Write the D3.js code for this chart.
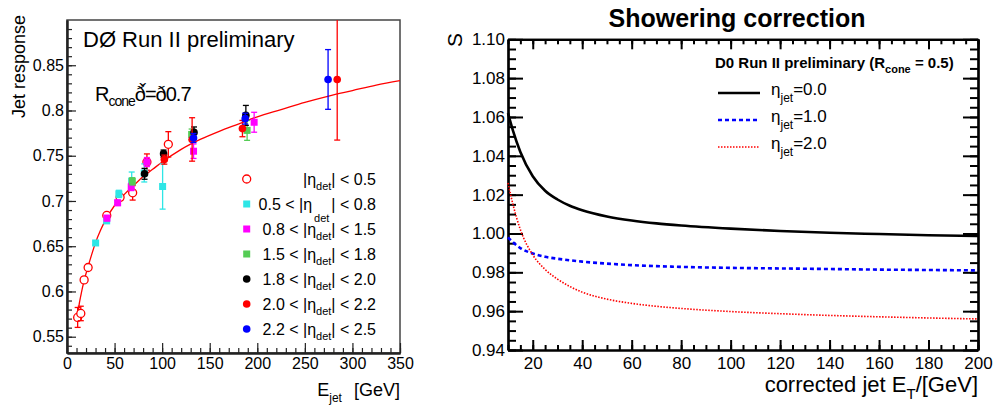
<!DOCTYPE html>
<html>
<head>
<meta charset="utf-8">
<script src="https://cdn.jsdelivr.net/npm/d3@7"></script>
<style>
  body { margin: 0; background: #fff; }
  svg { font-family: "Liberation Sans", Arial, sans-serif; }
</style>
</head>
<body>
<div id="chart"></div>
<script>
// ---- left panel data: jet response vs E_jet, one array per eta bin: [E, response, error]
const etaBinLabels = [
  ["", "| < 0.5"],
  ["0.5 < ", "| < 0.8"],
  ["0.8 < ", "| < 1.5"],
  ["1.5 < ", "| < 1.8"],
  ["1.8 < ", "| < 2.0"],
  ["2.0 < ", "| < 2.2"],
  ["2.2 < ", "| < 2.5"]
];
const etaBinColors = ["#ff0000", "#2ee6e6", "#ff00ff", "#55cc55", "#000000", "#ff0000", "#0000ff"];
const etaBinShapes = ["open", "square", "square", "square", "dot", "dot", "dot"];

const bin00 = [[11.2, 0.5713, 0.011], [14.5, 0.5757, 0.008], [18, 0.6128, 0.003], [22.2, 0.6265, 0.003],
               [41.8, 0.684, 0.003], [55.8, 0.704, 0.003], [69, 0.709, 0.008], [84, 0.743, 0.009],
               [106.5, 0.7626, 0.014]];
const bin05 = [[30.1, 0.6536, 0.002], [41.7, 0.678, 0.002], [54.5, 0.7078, 0.004], [68, 0.722, 0.01],
               [81.2, 0.731, 0.01], [100.5, 0.716, 0.025]];
const bin08 = [[42, 0.681, 0.003], [53.2, 0.698, 0.003], [67.5, 0.7155, 0.004], [84, 0.743, 0.005],
               [133, 0.755, 0.008], [196.7, 0.787, 0.011]];
const bin15 = [[68.6, 0.7217, 0.004], [131, 0.7735, 0.006], [189.3, 0.778, 0.011]];
const bin18 = [[81.5, 0.730, 0.006], [101.5, 0.7523, 0.004], [133.5, 0.7758, 0.006], [188, 0.7946, 0.011]];
const bin20 = [[102.3, 0.7457, 0.005], [131.5, 0.768, 0.024], [184.4, 0.780, 0.009], [284, 0.8343, 0.067]];
const bin22 = [[133, 0.7696, 0.005], [187.3, 0.791, 0.006], [274.4, 0.8343, 0.033]];
const allBins = [bin00, bin05, bin08, bin15, bin18, bin20, bin22];

// fitted response curve
const fitE = [11, 12, 15, 18, 22, 26, 30, 35, 40, 50, 60, 70, 80, 90, 100, 120, 140, 160, 180, 200, 225, 250, 275, 300, 325, 350];
const fitR = [0.570, 0.580, 0.598, 0.612, 0.627, 0.641, 0.654, 0.667, 0.678, 0.695, 0.707, 0.717, 0.727, 0.735,
              0.743, 0.757, 0.768, 0.777, 0.785, 0.793, 0.801, 0.809, 0.816, 0.822, 0.828, 0.833];

// ---- right panel data: showering correction S vs corrected jet E_T
const etGrid = [10, 12, 15, 20, 25, 30, 35, 40, 50, 60, 70, 80, 100, 120, 140, 160, 180, 200];
const sEta0 = [1.062, 1.053, 1.042, 1.0295, 1.022, 1.0175, 1.0143, 1.012, 1.0088, 1.0067, 1.0052, 1.0041, 1.0025, 1.0013, 1.0004, 0.9997, 0.9991, 0.9987];
const sEta1 = [0.998, 0.9955, 0.9925, 0.9897, 0.988, 0.987, 0.9862, 0.9855, 0.9845, 0.9837, 0.9832, 0.9828, 0.9823, 0.982, 0.9817, 0.9814, 0.9812, 0.981];
const sEta2 = [1.026, 1.015, 1.002, 0.989, 0.9815, 0.9765, 0.9727, 0.9698, 0.9662, 0.964, 0.9625, 0.9614, 0.9598, 0.9587, 0.9578, 0.9571, 0.9565, 0.956];
const sLabels = ["0.0", "1.0", "2.0"];

const svg = d3.select("#chart").append("svg").attr("width", 995).attr("height", 407);

// write "main" + subscript + "rest" into a text element
function subText(sel, parts, subSize, subDy, restDx) {
  sel.append("tspan").text(parts[0]);
  sel.append("tspan").attr("font-size", subSize).attr("dy", subDy).text(parts[1]);
  sel.append("tspan").attr("dy", -subDy).attr("dx", restDx || 0).text(parts[2]);
}

// ======================= LEFT PANEL =======================
const xL = d3.scaleLinear().domain([0, 350]).range([67, 400]);
const yL = d3.scaleLinear().domain([0.532, 0.9]).range([353, 20]);

svg.append("clipPath").attr("id", "clipL")
  .append("rect").attr("x", 67).attr("y", 20).attr("width", 333).attr("height", 333);

svg.append("rect")
  .attr("x", 67).attr("y", 20).attr("width", 333).attr("height", 333)
  .attr("fill", "none").attr("stroke", "#444").attr("stroke-width", 1.5);

const AxisXL = svg.append("g").attr("transform", "translate(0,353)");
AxisXL.call(d3.axisBottom(xL).tickValues(d3.range(0, 351, 10)).tickSize(-5).tickSizeOuter(0).tickFormat(""));
const AxisXLmaj = svg.append("g").attr("transform", "translate(0,353)");
AxisXLmaj.call(d3.axisBottom(xL).tickValues(d3.range(0, 351, 50)).tickSize(-10).tickSizeOuter(0).tickPadding(5));

const AxisYL = svg.append("g").attr("transform", "translate(67,0)");
AxisYL.call(d3.axisLeft(yL).tickValues(d3.range(54, 90).map(d => d / 100)).tickSize(-5).tickSizeOuter(0).tickFormat(""));
const AxisYLmaj = svg.append("g").attr("transform", "translate(67,0)");
AxisYLmaj.call(d3.axisLeft(yL).tickValues(d3.range(55, 86, 5).map(d => d / 100)).tickSize(-9).tickSizeOuter(0)
  .tickPadding(3).tickFormat(d => String(+d.toFixed(2))));

[AxisXL, AxisXLmaj, AxisYL, AxisYLmaj].forEach(g => {
  g.select(".domain").attr("stroke", "#222").attr("stroke-width", 2);
  g.selectAll(".tick line").attr("stroke", "#222").attr("stroke-width", 1.2);
  g.selectAll("text").attr("font-size", 16).attr("font-family", "Liberation Sans, Arial, sans-serif").attr("fill", "#000");
});

// axis titles
svg.append("text").attr("transform", "translate(25,15) rotate(-90)")
  .attr("text-anchor", "end").attr("font-size", 18).text("Jet response");
const xTitleL = svg.append("text").attr("x", 400).attr("y", 396).attr("text-anchor", "end").attr("font-size", 18);
subText(xTitleL, ["E", "jet", "[GeV]"], 12, 6, 12);

svg.append("text").attr("x", 83).attr("y", 47).attr("font-size", 22).text("DØ Run II preliminary");
const rcone = svg.append("text").attr("x", 95).attr("y", 101).attr("font-size", 20);
subText(rcone, ["R", "cone", "ð̌=ð0.7"], 14, 5);
rcone.attr("letter-spacing", -1);

// fit curve
const plotL = svg.append("g").attr("clip-path", "url(#clipL)");
const fitLine = d3.line().x(d => xL(d[0])).y(d => yL(d[1])).curve(d3.curveMonotoneX);
plotL.append("path")
  .datum(fitE.map((e, i) => [e, fitR[i]]))
  .attr("d", fitLine).attr("fill", "none").attr("stroke", "#ff0000").attr("stroke-width", 1.3);

// data points with error bars
function drawMarker(g, shape, color, cx, cy) {
  if (shape === "open") {
    g.append("circle").attr("cx", cx).attr("cy", cy).attr("r", 4)
      .attr("fill", "#fff").attr("stroke", color).attr("stroke-width", 1.3);
  } else if (shape === "square") {
    g.append("rect").attr("x", cx - 3.5).attr("y", cy - 3.5).attr("width", 7).attr("height", 7).attr("fill", color);
  } else {
    g.append("circle").attr("cx", cx).attr("cy", cy).attr("r", 3.8).attr("fill", color);
  }
}

allBins.forEach((bin, b) => {
  const color = etaBinColors[b];
  const g = plotL.append("g");
  bin.forEach(d => {
    const cx = xL(d[0]);
    const y0 = yL(d[1] - d[2]), y1 = yL(d[1] + d[2]);
    g.append("line").attr("x1", cx).attr("x2", cx).attr("y1", y0).attr("y2", y1)
      .attr("stroke", color).attr("stroke-width", 1.3);
    [y0, y1].forEach(yy => g.append("line").attr("x1", cx - 3).attr("x2", cx + 3).attr("y1", yy).attr("y2", yy)
      .attr("stroke", color).attr("stroke-width", 1.3));
    drawMarker(g, etaBinShapes[b], color, cx, yL(d[1]));
  });
});

// legend
const legL = svg.append("g");
etaBinLabels.forEach((lab, i) => {
  const yy = 179 + i * 25;
  drawMarker(legL, etaBinShapes[i], etaBinColors[i], 246.7, yy);
  const t = legL.append("text").attr("x", 376).attr("y", yy + 6).attr("text-anchor", "end").attr("font-size", 16);
  const drop = i === 1 ? 12 : 5;
  t.append("tspan").text(lab[0] + "|η");
  t.append("tspan").attr("font-size", 11).attr("dx", i === 1 ? 2 : 0).attr("dy", drop).text("det");
  t.append("tspan").attr("dx", i === 1 ? 2 : 0).attr("dy", -drop).text(lab[1]);
});

// ======================= RIGHT PANEL =======================
const xR = d3.scaleLinear().domain([10, 200]).range([508, 978]);
const yR = d3.scaleLinear().domain([0.94, 1.10]).range([350, 39.3]);

svg.append("text").attr("x", 737).attr("y", 27).attr("text-anchor", "middle")
  .attr("font-size", 25).attr("font-weight", "bold").text("Showering correction");

const minorX = d3.range(10, 201, 5), majorX = d3.range(20, 201, 20);
const minorY = d3.range(188, 221).map(d => d / 200), majorY = d3.range(47, 56).map(d => d / 50);

const axesR = [];
axesR.push(svg.append("g").attr("transform", "translate(0,350)")
  .call(d3.axisBottom(xR).tickValues(minorX).tickSize(-5).tickSizeOuter(0).tickFormat("")));
axesR.push(svg.append("g").attr("transform", "translate(0,350)")
  .call(d3.axisBottom(xR).tickValues(majorX).tickSize(-10).tickSizeOuter(0).tickPadding(7)));
axesR.push(svg.append("g").attr("transform", "translate(0,39.3)")
  .call(d3.axisTop(xR).tickValues(minorX).tickSize(-5).tickSizeOuter(0).tickFormat("")));
axesR.push(svg.append("g").attr("transform", "translate(0,39.3)")
  .call(d3.axisTop(xR).tickValues(majorX).tickSize(-10).tickSizeOuter(0).tickFormat("")));
axesR.push(svg.append("g").attr("transform", "translate(508,0)")
  .call(d3.axisLeft(yR).tickValues(minorY).tickSize(-8).tickSizeOuter(0).tickFormat("")));
axesR.push(svg.append("g").attr("transform", "translate(508,0)")
  .call(d3.axisLeft(yR).tickValues(majorY).tickSize(-15).tickSizeOuter(0).tickPadding(3).tickFormat(d3.format(".2f"))));
axesR.push(svg.append("g").attr("transform", "translate(978,0)")
  .call(d3.axisRight(yR).tickValues(minorY).tickSize(-8).tickSizeOuter(0).tickFormat("")));
axesR.push(svg.append("g").attr("transform", "translate(978,0)")
  .call(d3.axisRight(yR).tickValues(majorY).tickSize(-15).tickSizeOuter(0).tickFormat("")));
axesR.forEach(g => {
  g.select(".domain").attr("stroke", "#000").attr("stroke-width", 2.2);
  g.selectAll(".tick line").attr("stroke", "#000").attr("stroke-width", 2);
  g.selectAll("text").attr("font-size", 17).attr("font-family", "Liberation Sans, Arial, sans-serif").attr("fill", "#000");
});

svg.append("text").attr("transform", "translate(462,33) rotate(-90)")
  .attr("text-anchor", "end").attr("font-size", 21).text("S");
const xTitleR = svg.append("text").attr("x", 978).attr("y", 392).attr("text-anchor", "end").attr("font-size", 22);
subText(xTitleR, ["corrected jet E", "T", "/[GeV]"], 15, 7);

// curves
const sLine = d3.line().x((d, i) => xR(etGrid[i])).y(d => yR(d)).curve(d3.curveMonotoneX);
const sStyles = [
  { color: "#000", width: 2.6, dash: null },
  { color: "#0000ff", width: 2.6, dash: "4,3" },
  { color: "#ff0000", width: 1.6, dash: "1.5,1.5" }
];
[sEta0, sEta1, sEta2].forEach((s, i) => {
  svg.append("path").datum(s).attr("d", sLine).attr("fill", "none")
    .attr("stroke", sStyles[i].color).attr("stroke-width", sStyles[i].width)
    .attr("stroke-dasharray", sStyles[i].dash);
});

// legend
const legR = svg.append("g");
const legTitle = legR.append("text").attr("x", 715).attr("y", 68).attr("font-size", 15).attr("font-weight", "bold");
subText(legTitle, ["D0 Run II preliminary (R", "cone", " = 0.5)"], 11, 5);
sLabels.forEach((lab, i) => {
  const yy = 93 + i * 27;
  legR.append("line").attr("x1", 718).attr("x2", 760).attr("y1", yy).attr("y2", yy)
    .attr("stroke", sStyles[i].color).attr("stroke-width", sStyles[i].width)
    .attr("stroke-dasharray", sStyles[i].dash);
  const t = legR.append("text").attr("x", 771).attr("y", yy + 2).attr("font-size", 17);
  subText(t, ["η", "jet", "=" + lab], 12, 7);
});
</script>
</body>
</html>
